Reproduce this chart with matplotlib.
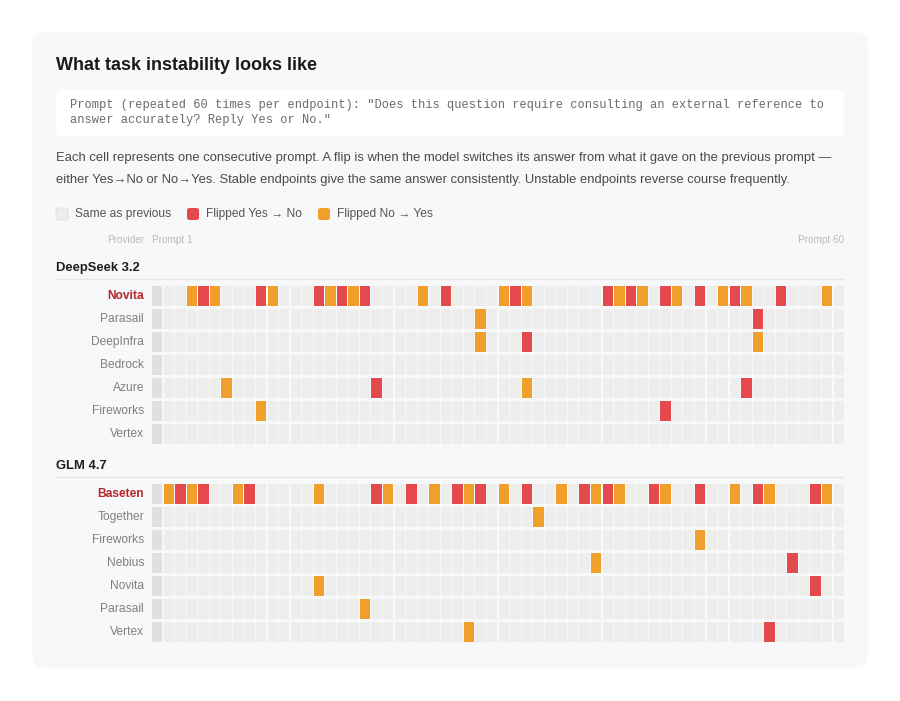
import matplotlib
matplotlib.use("Agg")
import matplotlib.pyplot as plt
from matplotlib.patches import FancyBboxPatch

# ---------------- data ----------------
n_prompts = 60

models = ["DeepSeek 3.2", "GLM 4.7"]

deepseek_providers = ["Novita", "Parasail", "DeepInfra", "Bedrock", "Azure", "Fireworks", "Vertex"]
# prompt numbers (1-based) where the answer flipped
deepseek_yes_to_no = [
    [5, 10, 15, 17, 19, 26, 32, 40, 42, 45, 48, 51, 55],
    [53],
    [33],
    [],
    [20, 52],
    [45],
    [],
]
deepseek_no_to_yes = [
    [4, 6, 11, 16, 18, 24, 31, 33, 41, 43, 46, 50, 52, 59],
    [29],
    [29, 53],
    [],
    [7, 33],
    [10],
    [],
]

glm_providers = ["Baseten", "Together", "Fireworks", "Nebius", "Novita", "Parasail", "Vertex"]
glm_yes_to_no = [
    [3, 5, 9, 20, 23, 27, 29, 33, 38, 40, 44, 48, 53, 58],
    [],
    [],
    [56],
    [58],
    [],
    [54],
]
glm_no_to_yes = [
    [2, 4, 8, 15, 21, 25, 28, 31, 36, 39, 41, 45, 51, 54, 59],
    [34],
    [48],
    [39],
    [15],
    [19],
    [28],
]

unstable_provider = ["Novita", "Baseten"]

title = "What task instability looks like"
prompt_lines = [
    'Prompt (repeated 60 times per endpoint): "Does this question require consulting an external reference to',
    'answer accurately? Reply Yes or No."',
]
desc_lines = [
    "Each cell represents one consecutive prompt. A flip is when the model switches its answer from what it gave on the previous prompt \u2014",
    "either Yes\u2192No or No\u2192Yes. Stable endpoints give the same answer consistently. Unstable endpoints reverse course frequently.",
]
legend_labels = ["Same as previous", "Flipped Yes \u2192 No", "Flipped No \u2192 Yes"]

# ---------------- style ----------------
C_SAME = "#ededeb"
C_FIRST = "#e0e0dc"
C_YN = "#e5484d"
C_NY = "#f0a02a"
C_CARD = "#f7f8fa"
C_LABEL = "#808080"
C_HI = "#b3262b"

SANS = ["Liberation Sans", "DejaVu Sans"]
MONO = ["Liberation Mono", "DejaVu Sans Mono"]
plt.rcParams["font.family"] = SANS

def pt(px):
    return px * 0.72

W, H = 900, 701
fig = plt.figure(figsize=(9, 7.01), dpi=100)
fig.patch.set_facecolor("white")
bg = fig.add_axes([0, 0, 1, 1])
bg.set_xlim(0, W)
bg.set_ylim(H, 0)
bg.axis("off")

# card
bg.add_patch(FancyBboxPatch((32, 32), 836, 636, boxstyle="round,pad=0,rounding_size=14",
                            facecolor=C_CARD, edgecolor="none"))
# prompt box
bg.add_patch(FancyBboxPatch((56, 89), 788, 47, boxstyle="round,pad=0,rounding_size=6",
                            facecolor="white", edgecolor="none"))

bg.text(56, 66, title, fontsize=pt(18), fontweight="bold", color="#1a1a1a", va="center", ha="left")
for i, line in enumerate(prompt_lines):
    bg.text(70, 105 + 15 * i, line, family=MONO, fontsize=pt(12), color="#6b6b6b", va="center", ha="left")
for i, line in enumerate(desc_lines):
    bg.text(56, 158 + 22 * i, line, fontsize=pt(13), color="#4a4a4a", va="center", ha="left")

# legend
leg_x = [56, 187, 318]
leg_c = [C_SAME, C_YN, C_NY]
for x, c, lab in zip(leg_x, leg_c, legend_labels):
    bg.add_patch(FancyBboxPatch((x, 208), 12, 12, boxstyle="round,pad=0,rounding_size=2.5",
                                facecolor=c, edgecolor="#dddddd" if c == C_SAME else "none", linewidth=0.6))
    bg.text(x + 19, 214, lab, fontsize=pt(12), color="#555555", va="center", ha="left")

# header
bg.text(144, 240, "Provider", fontsize=pt(10), color="#bbbbbb", va="center", ha="right")
bg.text(152, 240, "Prompt 1", fontsize=pt(10), color="#bbbbbb", va="center", ha="left")
bg.text(844, 240, "Prompt 60", fontsize=pt(10), color="#bbbbbb", va="center", ha="right")

groups = [
    (deepseek_providers, deepseek_yes_to_no, deepseek_no_to_yes, 268),
    (glm_providers, glm_yes_to_no, glm_no_to_yes, 466),
]

row_pitch = 23
cell_h = 20
grid_left, grid_w = 152, 692

for gi, (providers, yn, ny, ty) in enumerate(groups):
    bg.text(56, ty, models[gi], fontsize=pt(13), fontweight="bold", color="#1f1f1f", va="center", ha="left")
    bg.plot([56, 844], [ty + 11, ty + 11], color="#e6e7ea", linewidth=1)
    y0 = ty + 18
    n = len(providers)
    gh = (n - 1) * row_pitch + cell_h
    ax = fig.add_axes([grid_left / W, 1 - (y0 + gh) / H, grid_w / W, gh / H])
    ax.set_xlim(0, n_prompts - 0.1)
    ax.set_ylim((n - 1) + cell_h / row_pitch, 0)
    ax.axis("off")
    ax.patch.set_alpha(0)
    for r, prov in enumerate(providers):
        colors = [C_FIRST] + [C_SAME] * (n_prompts - 1)
        for p in yn[r]:
            colors[p - 1] = C_YN
        for p in ny[r]:
            colors[p - 1] = C_NY
        ax.bar(range(n_prompts), [cell_h / row_pitch] * n_prompts, width=0.9, bottom=r,
               align="edge", color=colors, linewidth=0)
        hi = prov == unstable_provider[gi]
        bg.text(144, y0 + r * row_pitch + cell_h / 2, prov, fontsize=pt(12),
                fontweight="bold" if hi else "normal", color=C_HI if hi else C_LABEL,
                va="center", ha="right")

fig.savefig("out.png", dpi=100, facecolor="white")
